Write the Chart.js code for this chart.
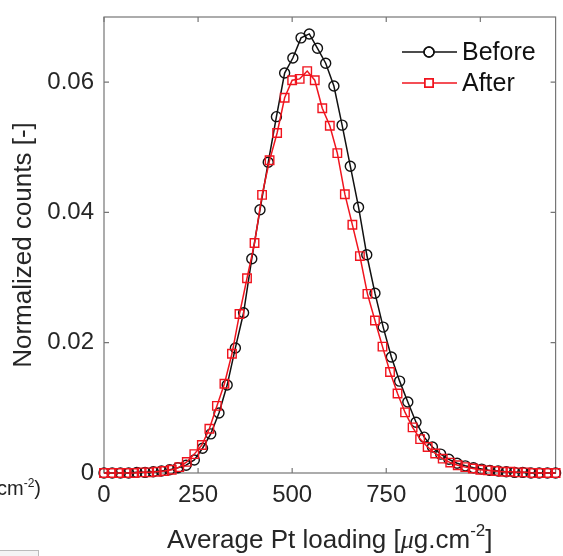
<!DOCTYPE html>
<html>
<head>
<meta charset="utf-8">
<script src="https://cdn.jsdelivr.net/npm/chart.js@4.4.0/dist/chart.umd.min.js"></script>
<style>
  html, body { margin: 0; padding: 0; background: #fff; }
  #wrap { position: relative; width: 563px; height: 556px; }
  #stray { position: absolute; left: -3px; top: 476px; font: 20px "Liberation Sans", Arial, sans-serif; color: #222; }
  #stray sup { font-size: 12px; }
  #bar { position: absolute; left: 0; top: 550px; width: 38px; height: 6px; border-top: 1px solid #bbb; border-right: 1px solid #bbb; background: #f4f4f4; }
</style>
</head>
<body>
<div id="wrap">
  <canvas id="chart" width="563" height="556"></canvas>
  <div id="stray">cm<sup>-2</sup>)</div>
  <div id="bar"></div>
</div>
<script>
// histogram bins of average Pt loading (ug/cm2), normalized counts
const beforeX = [0, 21.8, 43.6, 65.5, 87.3, 109.1, 130.9, 152.7, 174.5, 196.4,
    218.2, 240, 261.8, 283.6, 305.5, 327.3, 349.1, 370.9, 392.7, 414.5,
    436.4, 458.2, 480, 501.8, 523.6, 545.5, 567.3, 589.1, 610.9, 632.7,
    654.5, 676.4, 698.2, 720, 741.8, 763.6, 785.5, 807.3, 829.1, 850.9,
    872.7, 894.5, 916.4, 938.2, 960, 981.8, 1003.6, 1025.5, 1047.3, 1069.1,
    1090.9, 1112.7, 1134.5, 1156.4, 1178.2, 1200];
const beforeY = [0, 0, 0, 0, 0.0001, 0.0001, 0.0002, 0.0003, 0.0005, 0.0008,
    0.0012, 0.0020, 0.0038, 0.0060, 0.0092, 0.0135, 0.0192, 0.0246, 0.0329, 0.0404,
    0.0477, 0.0547, 0.0614, 0.0637, 0.0668, 0.0674, 0.0652, 0.0629, 0.0594, 0.0534,
    0.0471, 0.0408, 0.0335, 0.0276, 0.0224, 0.0178, 0.0141, 0.0109, 0.0078, 0.0055,
    0.0040, 0.0029, 0.0021, 0.0015, 0.0011, 0.0008, 0.0006, 0.0004, 0.0003, 0.0002,
    0.0001, 0.0001, 0, 0, 0, 0];

const afterX = [0, 20, 40, 60, 80, 100, 120, 140, 160, 180,
    200, 220, 240, 260, 280, 300, 320, 340, 360, 380,
    400, 420, 440, 460, 480, 500, 520, 540, 560, 580,
    600, 620, 640, 660, 680, 700, 720, 740, 760, 780,
    800, 820, 840, 860, 880, 900, 920, 940, 960, 980,
    1000, 1020, 1040, 1060, 1080, 1100, 1120, 1140, 1160, 1180, 1200];
const afterY = [0, 0, 0, 0, 0, 0.0001, 0.0001, 0.0002, 0.0003, 0.0005,
    0.0009, 0.0017, 0.0029, 0.0043, 0.0068, 0.0103, 0.0137, 0.0183, 0.0244, 0.0299,
    0.0353, 0.0427, 0.0480, 0.0522, 0.0576, 0.0603, 0.0605, 0.0617, 0.0603, 0.0560,
    0.0533, 0.0491, 0.0428, 0.0381, 0.0333, 0.0275, 0.0234, 0.0194, 0.0155, 0.0122,
    0.0093, 0.0070, 0.0052, 0.0040, 0.0030, 0.0022, 0.0016, 0.0012, 0.0009, 0.0007,
    0.0005, 0.0004, 0.0003, 0.0002, 0.0002, 0.0001, 0.0001, 0, 0, 0, 0];

const xTicks = [0, 250, 500, 750, 1000];
const yTicks = [0, 0.02, 0.04, 0.06];

document.addEventListener("DOMContentLoaded", () => {

    const FONT = '"Liberation Sans", Arial, sans-serif';
    const BLACK = "#111111";
    const RED = "#f0141e";
    const AXIS = "#767676";
    const TEXT = "#262626";

    // box around the axes, ticks pointing inward (matlab look)
    const frame = {
        id: "frame",
        beforeDatasetsDraw(chart) {
            const ctx = chart.ctx;
            const a = chart.chartArea;
            const xs = chart.scales.x;
            const ys = chart.scales.y;
            ctx.save();
            ctx.strokeStyle = AXIS;
            ctx.lineWidth = 1.2;
            ctx.strokeRect(a.left, a.top, a.right - a.left, a.bottom - a.top);
            ctx.beginPath();
            xTicks.forEach(v => {
                const px = xs.getPixelForValue(v);
                ctx.moveTo(px, a.bottom); ctx.lineTo(px, a.bottom - 5);
                ctx.moveTo(px, a.top); ctx.lineTo(px, a.top + 5);
            });
            yTicks.forEach(v => {
                const py = ys.getPixelForValue(v);
                ctx.moveTo(a.left, py); ctx.lineTo(a.left + 5, py);
                ctx.moveTo(a.right, py); ctx.lineTo(a.right - 5, py);
            });
            ctx.stroke();
            ctx.restore();
        },
        afterDraw(chart) {
            const ctx = chart.ctx;
            const a = chart.chartArea;
            ctx.save();

            // y title
            ctx.fillStyle = TEXT;
            ctx.font = "26px " + FONT;
            ctx.textAlign = "center";
            ctx.textBaseline = "middle";
            ctx.translate(24, (a.top + a.bottom) / 2);
            ctx.rotate(-Math.PI / 2);
            ctx.fillText("Normalized counts [-]", 0, 0);
            ctx.setTransform(1, 0, 0, 1, 0, 0);

            // x title with italic mu and superscript
            const parts = [
                { t: "Average Pt loading [", f: "26px " + FONT, dy: 0 },
                { t: "\u03bc", f: "italic 26px \"Liberation Serif\", serif", dy: 0 },
                { t: "g.cm", f: "26px " + FONT, dy: 0 },
                { t: "-2", f: "17px " + FONT, dy: -12 },
                { t: "]", f: "26px " + FONT, dy: 0 }
            ];
            let total = 0;
            parts.forEach(p => {
                ctx.font = p.f;
                p.w = ctx.measureText(p.t).width;
                total += p.w;
            });
            let x = (a.left + a.right) / 2 - total / 2;
            ctx.textAlign = "left";
            ctx.textBaseline = "alphabetic";
            parts.forEach(p => {
                ctx.font = p.f;
                ctx.fillText(p.t, x, 548 + p.dy);
                x += p.w;
            });

            // legend: line with marker in the middle
            const items = [
                { label: "Before", color: BLACK, style: "circle", y: 52 },
                { label: "After", color: RED, style: "rect", y: 83 }
            ];
            items.forEach(it => {
                ctx.strokeStyle = it.color;
                ctx.lineWidth = 1.5;
                ctx.beginPath();
                ctx.moveTo(402, it.y);
                ctx.lineTo(457, it.y);
                ctx.stroke();
                ctx.fillStyle = "#ffffff";
                Chart.helpers.drawPoint(ctx, { pointStyle: it.style, radius: it.style === "rect" ? 6 : 5, borderWidth: 1.4 }, 429, it.y);
                ctx.stroke();
                ctx.fillStyle = BLACK;
                ctx.font = "25px " + FONT;
                ctx.textBaseline = "middle";
                ctx.fillText(it.label, 462, it.y + 1);
            });
            ctx.restore();
        }
    };

    const tickFont = { family: FONT, size: 24 };

    function noPad(s) {
        s.paddingTop = 0;
        s.paddingBottom = 0;
        s.paddingLeft = 0;
        s.paddingRight = 0;
    }

    new Chart(document.getElementById("chart").getContext("2d"), {
        type: "scatter",
        data: {
            datasets: [
                {
                    label: "Before",
                    data: beforeX.map((x, i) => ({ x: x, y: beforeY[i] })),
                    showLine: true,
                    borderColor: BLACK,
                    borderWidth: 1.5,
                    pointStyle: "circle",
                    pointRadius: 5,
                    pointBorderWidth: 1.4,
                    pointBorderColor: BLACK,
                    pointBackgroundColor: "rgba(0,0,0,0)",
                    clip: false,
                    order: 2
                },
                {
                    label: "After",
                    data: afterX.map((x, i) => ({ x: x, y: afterY[i] })),
                    showLine: true,
                    borderColor: RED,
                    borderWidth: 1.5,
                    pointStyle: "rect",
                    pointRadius: 6,
                    pointBorderWidth: 1.4,
                    pointBorderColor: RED,
                    pointBackgroundColor: "rgba(0,0,0,0)",
                    clip: false,
                    order: 1
                }
            ]
        },
        options: {
            responsive: false,
            animation: false,
            layout: { padding: { top: 17, right: 4, left: 0, bottom: 0 } },
            plugins: {
                legend: { display: false },
                tooltip: { enabled: false }
            },
            scales: {
                x: {
                    type: "linear",
                    min: 0,
                    max: 1200,
                    afterBuildTicks: s => { s.ticks = xTicks.map(v => ({ value: v })); },
                    afterFit: s => { s.height = 83; noPad(s); },
                    grid: { display: false, drawTicks: false },
                    border: { display: false },
                    ticks: { font: tickFont, color: TEXT, padding: 8, maxRotation: 0, callback: v => String(v) }
                },
                y: {
                    min: 0,
                    max: 0.07,
                    afterBuildTicks: s => { s.ticks = yTicks.map(v => ({ value: v })); },
                    afterFit: s => { s.width = 104; noPad(s); },
                    grid: { display: false, drawTicks: false },
                    border: { display: false },
                    ticks: {
                        font: tickFont,
                        color: TEXT,
                        padding: 10,
                        callback: v => v === 0 ? "0" : v.toFixed(2)
                    }
                }
            }
        },
        plugins: [frame]
    });

});
</script>
</body>
</html>
